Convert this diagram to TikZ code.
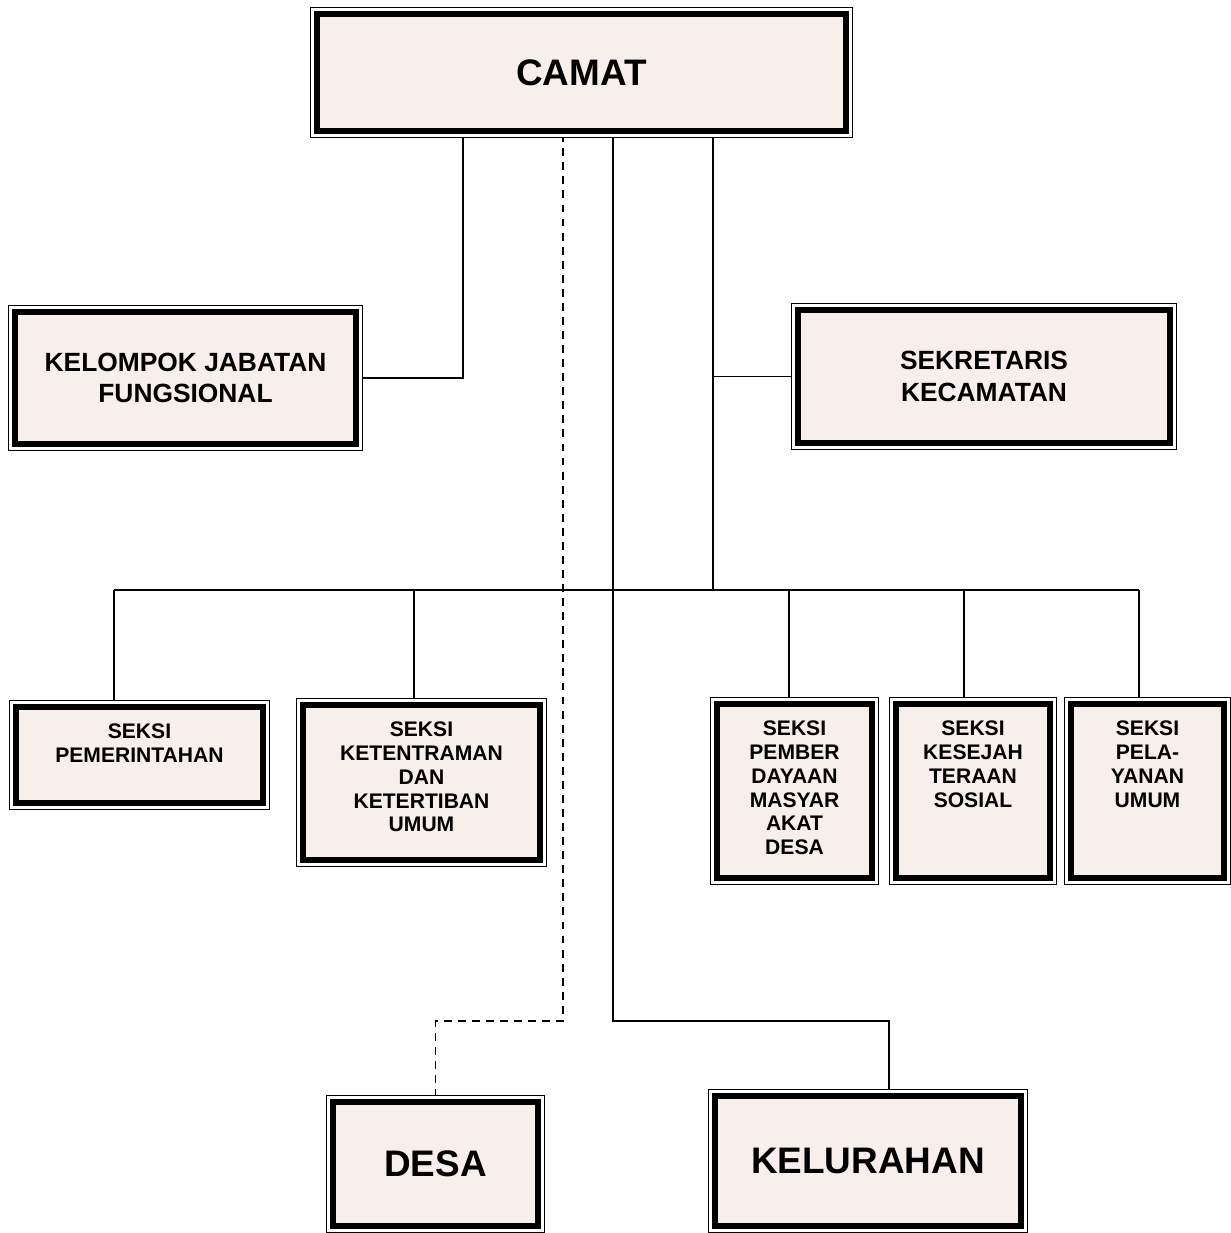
\documentclass[tikz,border=0pt]{standalone}
\usepackage{fontspec}
\setmainfont{Liberation Sans}
\usetikzlibrary{backgrounds}
\definecolor{boxfill}{RGB}{246,239,236}
\begin{document}
\begin{tikzpicture}[line cap=round,line join=round,x=1.0cm,y=1.0cm,
	kotak/.style={rectangle,fill=boxfill,draw=black,line width=3.7pt,line join=miter,inner sep=0pt,
		preaction={draw=black,line width=8.1pt,line join=miter},
		preaction={draw=white,line width=6.5pt,line join=miter}},
	besar/.style={font=\fontsize{21}{25}\selectfont\bfseries},
	sedang/.style={font=\fontsize{15}{18}\selectfont\bfseries,align=center},
	kecil/.style={font=\fontsize{12}{13.6}\selectfont\bfseries,align=center,anchor=north,inner sep=0pt,yshift=-0.39cm},
	garis/.style={line width=0.9pt},
	putus/.style={line width=0.9pt,line cap=butt,dash pattern=on 4.5pt off 3.5pt}]
				\useasboundingbox (0,0) rectangle (24.6,24.66);
				\node[kotak,besar,minimum width=10.58cm,minimum height=2.34cm] (camat) at (11.63,23.21) {CAMAT};
				\node[kotak,sedang,minimum width=6.82cm,minimum height=2.64cm] (kjf) at (3.71,17.10) {KELOMPOK JABATAN\\FUNGSIONAL};
				\node[kotak,sedang,minimum width=7.44cm,minimum height=2.66cm] (sek) at (19.68,17.13) {SEKRETARIS\\KECAMATAN};
				\node[kotak,minimum width=4.94cm,minimum height=1.92cm] (pem) at (2.79,9.56) {};
				\node[kotak,minimum width=4.74cm,minimum height=3.10cm] (ket) at (8.43,9.01) {};
				\node[kotak,minimum width=3.10cm,minimum height=3.48cm] (pmd) at (15.89,8.84) {};
				\node[kotak,minimum width=3.08cm,minimum height=3.48cm] (kes) at (19.46,8.84) {};
				\node[kotak,minimum width=3.06cm,minimum height=3.48cm] (pel) at (22.95,8.84) {};
				\node[kotak,besar,minimum width=4.10cm,minimum height=2.48cm] (desa) at (8.71,1.38) {DESA};
				\node[kotak,besar,minimum width=6.12cm,minimum height=2.60cm] (kel) at (17.36,1.44) {KELURAHAN};
				\node[kecil] (pem-t) at (pem.north) {SEKSI\\PEMERINTAHAN};
				\node[kecil] (ket-t) at (ket.north) {SEKSI\\KETENTRAMAN\\DAN\\KETERTIBAN\\UMUM};
				\node[kecil] (pmd-t) at (pmd.north) {SEKSI\\PEMBER\\DAYAAN\\MASYAR\\AKAT\\DESA};
				\node[kecil] (kes-t) at (kes.north) {SEKSI\\KESEJAH\\TERAAN\\SOSIAL};
				\node[kecil] (pel-t) at (pel.north) {SEKSI\\PELA-\\YANAN\\UMUM};
				\begin{scope}[on background layer]
					\coordinate (kjfx) at (9.26,0);
					\coordinate (desax) at (11.26,0);
					\coordinate (kelx) at (12.26,0);
					\coordinate (sekx) at (14.26,0);
					\coordinate (kelturun) at (17.78,0);
					\coordinate (bus) at (2.28,12.86);
					\coordinate (bus-r) at (22.78,12.86);
					\coordinate (bawah) at (0,4.24);
					\draw[garis] (camat.south -| kjfx) |- (kjf.east);
					\draw[garis] (camat.south -| sekx) -- (sekx |- bus);
					\draw[garis] (sekx |- sek.west) -- (sek.west);
					\draw[garis] (bus) -- (bus-r);
					\foreach \b/\x in {pem/2.28,ket/8.28,pmd/15.78,kes/19.28,pel/22.78}
						\draw[garis] (\x,12.86) coordinate (atas) -- (atas |- \b.north);
					\draw[putus] (camat.south -| desax) -- (bawah -| desax) -| (desa.north);
					\draw[garis] (camat.south -| kelx) -- (bawah -| kelx) -| (kel.north -| kelturun);
				\end{scope}
			\end{tikzpicture}
\end{document}
